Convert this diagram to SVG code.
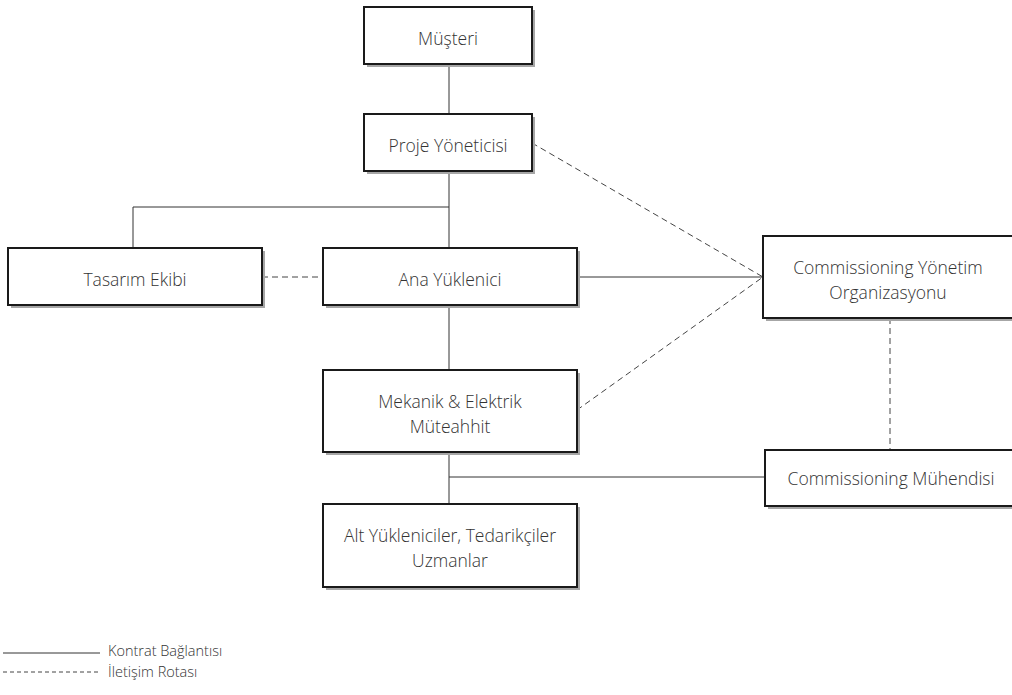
<svg xmlns="http://www.w3.org/2000/svg" width="1012" height="695" viewBox="0 0 1012 695">
<style>
.box{fill:#fff;stroke:#1a1a1a;stroke-width:2}
.sh{fill:#a6a6a6}
.t{font-family:"Open Sans","Noto Sans","Liberation Sans",sans-serif;font-weight:300;font-size:17.5px;fill:#333;text-anchor:middle}
.lt{font-family:"Open Sans","Noto Sans","Liberation Sans",sans-serif;font-weight:300;font-size:14.5px;fill:#333}
.s{stroke:#333;stroke-width:1;fill:none}
.d{stroke:#444;stroke-width:1;fill:none;stroke-dasharray:6 4}
</style>
<rect width="1012" height="695" fill="#fff"/>
<g id="connectors">
<line class="s" x1="449" y1="64" x2="449" y2="114"/>
<line class="s" x1="449" y1="171" x2="449" y2="248"/>
<polyline class="s" points="133,248 133,207 449,207"/>
<line class="d" x1="262" y1="277" x2="323" y2="277"/>
<line class="s" x1="577" y1="277" x2="763" y2="277"/>
<line class="d" x1="532" y1="143" x2="763" y2="277"/>
<line class="d" x1="577" y1="410" x2="763" y2="277"/>
<line class="s" x1="449" y1="305" x2="449" y2="370"/>
<line class="s" x1="449" y1="452" x2="449" y2="504"/>
<line class="s" x1="449" y1="477" x2="765" y2="477"/>
<line class="d" x1="890" y1="318" x2="890" y2="450"/>
</g>
<g id="musteri">
<rect class="sh" x="367" y="10" width="168" height="57"/>
<rect class="box" x="364" y="7" width="168" height="57"/>
<text class="t" x="448" y="45">Müşteri</text>
</g>
<g id="proje-yoneticisi">
<rect class="sh" x="367" y="117" width="168" height="57"/>
<rect class="box" x="364" y="114" width="168" height="57"/>
<text class="t" x="448" y="152">Proje Yöneticisi</text>
</g>
<g id="tasarim-ekibi">
<rect class="sh" x="11" y="251" width="254" height="57"/>
<rect class="box" x="8" y="248" width="254" height="57"/>
<text class="t" x="135" y="286">Tasarım Ekibi</text>
</g>
<g id="ana-yuklenici">
<rect class="sh" x="326" y="251" width="254" height="57"/>
<rect class="box" x="323" y="248" width="254" height="57"/>
<text class="t" x="450" y="286">Ana Yüklenici</text>
</g>
<g id="commissioning-yonetim">
<rect class="sh" x="766" y="239" width="260" height="82"/>
<rect class="box" x="763" y="236" width="260" height="82"/>
<text class="t" x="888" y="274">Commissioning Yönetim</text>
<text class="t" x="888" y="299">Organizasyonu</text>
</g>
<g id="mekanik-elektrik">
<rect class="sh" x="326" y="373" width="254" height="82"/>
<rect class="box" x="323" y="370" width="254" height="82"/>
<text class="t" x="450" y="408">Mekanik &amp; Elektrik</text>
<text class="t" x="450" y="433">Müteahhit</text>
</g>
<g id="commissioning-muhendisi">
<rect class="sh" x="768" y="453" width="260" height="56"/>
<rect class="box" x="765" y="450" width="260" height="56"/>
<text class="t" x="891" y="485">Commissioning Mühendisi</text>
</g>
<g id="alt-yukleniciler">
<rect class="sh" x="326" y="507" width="254" height="83"/>
<rect class="box" x="323" y="504" width="254" height="83"/>
<text class="t" x="450" y="542">Alt Yükleniciler, Tedarikçiler</text>
<text class="t" x="450" y="567">Uzmanlar</text>
</g>
<g id="legend">
<line class="s" x1="3" y1="653" x2="100" y2="653"/>
<line class="d" x1="3" y1="672" x2="100" y2="672" style="stroke-dasharray:4 3"/>
<text class="lt" x="108" y="656">Kontrat Bağlantısı</text>
<text class="lt" x="108" y="677">İletişim Rotası</text>
</g>
</svg>
